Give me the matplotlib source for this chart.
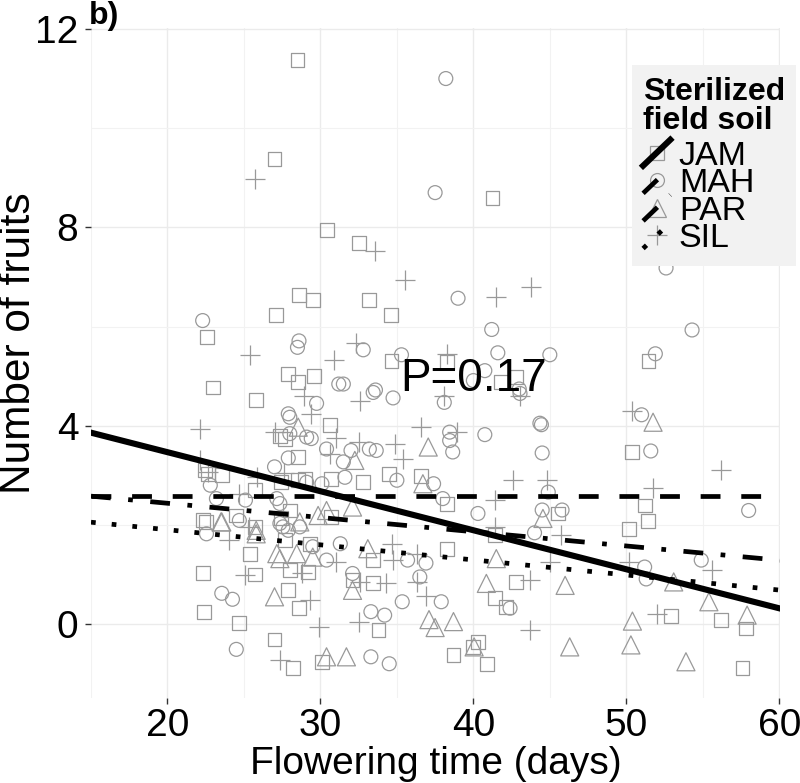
import matplotlib
matplotlib.use("Agg")
import matplotlib.pyplot as plt
from matplotlib.lines import Line2D
from matplotlib.legend_handler import HandlerBase
from matplotlib.ticker import MultipleLocator

plt.rcParams['font.family'] = ['Liberation Sans', 'DejaVu Sans']

# flowering time (days) / number of fruits
jam_x = [28.5, 27.0, 30.45, 32.5, 41.25, 28.6, 29.5, 33.2, 27.1, 22.6, 34.6, 34.65, 38.25,
         51.45, 27.9, 29.6, 28.55, 23.0, 41.8, 42.8, 25.8, 30.65, 27.35, 27.7, 28.55, 22.45,
         22.65, 23.55, 27.45, 29.0, 30.7, 32.8, 25.7, 22.3, 22.5, 25.4, 22.3, 25.7, 22.4, 24.7,
         28.0, 29.2, 27.9, 28.6, 27.0, 28.2, 30.1, 33.8, 32.1, 33.45, 33.45, 34.5, 36.6, 50.35,
         38.25, 45.55, 51.2, 51.4, 50.2, 41.4, 38.25, 42.8, 41.4, 42.15, 57.85, 56.2, 52.95,
         40.3, 40.0, 38.7, 40.9, 57.6, 28.55, 29.3, 27.7, 28.0, 27.45, 30.7, 25.7, 24.5]
jam_y = [11.38, 9.38, 7.94, 7.68, 8.6, 6.63, 6.53, 6.53, 6.23, 5.79, 6.23, 5.3, 5.28,
         5.31, 5.04, 5.01, 4.88, 4.77, 4.88, 4.98, 4.52, 4.02, 3.8, 3.74, 3.37, 3.1,
         3.03, 3.0, 2.86, 2.93, 2.93, 2.86, 2.7, 2.09, 2.06, 1.42, 1.03, 1.0, 0.24, 0.03,
         1.09, 1.05, 0.68, 0.33, -0.31, -0.89, -0.76, -0.12, 0.89, 0.82, 1.29, 3.03, 2.98, 3.47,
         2.43, 2.23, 2.39, 2.07, 1.91, 1.79, 1.52, 0.85, 0.52, 0.35, -0.09, 0.08, 0.16,
         -0.36, -0.46, -0.62, -0.8, -0.89, 2.9, 1.62, 1.69, 2.29, 2.13, 2.16, 1.96, 2.19]

mah_x = [38.2, 37.5, 52.6, 54.3, 22.3, 28.6, 28.5, 32.8, 39.0, 41.2, 41.6, 45.0, 35.3, 51.9,
         31.2, 31.5, 33.6, 40.75, 40.0, 43.0, 33.45, 29.75, 27.9, 28.0, 28.0, 29.1, 29.4, 30.4,
         33.2, 33.65, 27.9, 32.0, 31.5, 27.0, 30.1, 31.6, 22.8, 25.1, 27.15, 24.7, 27.35, 22.55,
         23.55, 24.25, 24.5, 33.3, 33.3, 30.4, 31.3, 34.75, 38.1, 43.05, 40.75, 44.35, 44.45,
         38.45, 38.45, 38.65, 44.5, 51.0, 51.6, 35.0, 37.4, 38.0, 40.3, 44.5, 45.8, 58.0, 44.0,
         35.7, 36.9, 51.2, 54.9, 51.3, 36.5, 42.4, 37.9, 35.35, 34.2, 34.5, 23.2, 27.55, 27.9,
         28.65, 29.5, 29.1, 27.35, 32.1, 44.9]
mah_y = [11.0, 8.7, 7.18, 5.93, 6.12, 5.71, 5.58, 5.53, 6.57, 5.94, 5.47, 5.43, 5.43, 5.45,
         4.84, 4.84, 4.72, 5.11, 4.91, 4.74, 4.67, 4.45, 4.24, 4.17, 3.84, 3.77, 3.74, 3.53,
         3.53, 3.5, 3.35, 3.5, 3.27, 3.17, 2.83, 2.96, 2.8, 2.5, 2.53, 2.09, 2.03, 1.82,
         0.62, 0.5, -0.51, -0.66, 0.25, 1.29, 1.62, 4.56, 4.47, 4.65, 3.82, 4.05, 4.02,
         3.87, 3.7, 3.47, 3.45, 4.22, 3.49, 2.9, 2.83, 2.53, 2.23, 2.3, 2.3, 2.29, 1.84,
         1.29, 1.23, 1.15, 1.29, 0.91, 0.95, 0.32, 0.45, 0.45, 0.18, -0.8, 2.53, 1.96, 1.89,
         1.96, 1.56, 2.86, 2.43, 1.02, 2.66]

par_x = [28.55, 32.25, 29.85, 30.4, 32.1, 23.55, 25.8, 23.5, 25.8, 27.15, 27.35, 28.45, 29.5,
         27.0, 30.4, 31.7, 32.1, 33.1, 37.05, 51.75, 36.7, 44.55, 41.5, 53.1, 46.0, 40.85,
         37.1, 37.5, 38.7, 55.4, 57.9, 50.4, 40.05, 46.3, 50.3, 53.9, 28.65]
par_y = [3.97, 3.3, 2.19, 2.29, 2.36, 2.06, 1.89, 2.06, 1.82, 1.42, 1.32, 1.42, 1.35,
         0.55, -0.66, -0.66, 0.68, 1.52, 3.57, 4.07, 2.83, 2.13, 1.32, 0.85, 0.78, 0.82,
         0.09, -0.07, 0.05, 0.45, 0.18, 0.06, -0.46, -0.46, -0.42, -0.76, 2.06]

sil_x = [25.7, 33.6, 25.4, 32.3, 30.9, 35.5, 41.5, 43.8, 38.25, 28.9, 32.6, 29.4, 22.1, 27.0,
         32.5, 30.6, 22.1, 22.65, 25.85, 24.0, 25.1, 25.3, 28.8, 29.3, 29.9, 27.35, 32.5, 32.6,
         31.05, 38.1, 43.05, 36.6, 38.9, 34.85, 35.4, 50.35, 56.2, 42.6, 44.8, 51.75, 41.4,
         41.4, 45.75, 34.65, 36.3, 34.75, 45.0, 50.2, 55.6, 43.7, 34.3, 36.3, 36.9, 52.0, 43.7,
         24.7, 27.6, 31.0]
sil_y = [8.98, 7.52, 5.43, 5.66, 5.33, 6.94, 6.59, 6.8, 5.45, 4.6, 4.5, 4.24, 3.94, 3.87,
         3.67, 3.43, 3.3, 3.07, 2.96, 1.69, 0.99, 1.96, 1.02, 0.48, -0.05, -0.72, 0.05, 0.85,
         1.25, 4.6, 4.6, 3.97, 3.87, 3.64, 3.33, 4.29, 3.11, 2.9, 2.9, 2.75, 2.5,
         1.96, 1.79, 1.62, 1.42, 1.29, 1.25, 1.25, 1.09, 0.89, 0.83, 0.84, 0.56, 0.2, -0.12,
         2.63, 3.05, 3.75]

populations = ['JAM', 'MAH', 'PAR', 'SIL']
# fitted lines: intercept and slope
fit_intercept = [5.04, 2.58, 3.01, 2.51]
fit_slope = [-0.0787, 0.0, -0.0287, -0.0304]

markers = ['s', 'o', '^', '+']
marker_size = [10, 10, 13, 14]
dash_styles = ['-', (0, (4.2, 4.4)), (0, (4.2, 3.7, 1, 3.7)), (0, (1, 3.4))]
line_widths = [4.4, 3.4, 3.4, 3.4]
grey = '#999999'


class DiagonalKey(HandlerBase):
    """ggplot style abline key: gray point with a diagonal line on top"""
    def create_artists(self, legend, orig_handle, xdescent, ydescent,
                       width, height, fontsize, trans):
        x0, y0 = -xdescent, -ydescent
        pt = Line2D([x0 + width / 2], [y0 + height / 2], ls='none',
                    marker=orig_handle.get_marker(), markersize=orig_handle.get_markersize(),
                    markerfacecolor='none', markeredgecolor=grey, markeredgewidth=0.9)
        ln = Line2D([x0, x0 + width], [y0, y0 + height])
        ln.update_from(orig_handle)
        ln.set_marker('None')
        ln.set_color('black')
        pt.set_transform(trans)
        ln.set_transform(trans)
        return [pt, ln]


fig = plt.figure(figsize=(8, 7.83), dpi=100)
ax = fig.add_axes([0.11375, 0.1086, 0.86125, 0.8557])

xs = [jam_x, mah_x, par_x, sil_x]
ys = [jam_y, mah_y, par_y, sil_y]
for i in range(4):
    if markers[i] == '+':
        ax.scatter(xs[i], ys[i], marker='+', s=marker_size[i] ** 2, c=grey, linewidths=0.9, zorder=2)
    else:
        ax.scatter(xs[i], ys[i], marker=markers[i], s=marker_size[i] ** 2, facecolors='none',
                   edgecolors=grey, linewidths=0.9, zorder=2)

handles = []
for i in range(4):
    ax.axline((0, fit_intercept[i]), slope=fit_slope[i], color='black',
              linestyle=dash_styles[i], linewidth=line_widths[i], zorder=3)
    handles.append(Line2D([], [], color='black', linestyle=dash_styles[i],
                          linewidth=line_widths[i], marker=markers[i],
                          markersize=marker_size[i]))

ax.set_xlim(15.0, 60.05)
ax.set_ylim(-1.49, 12.02)
ax.xaxis.set_major_locator(MultipleLocator(10))
ax.xaxis.set_minor_locator(MultipleLocator(5))
ax.yaxis.set_major_locator(MultipleLocator(4))
ax.yaxis.set_minor_locator(MultipleLocator(2))
ax.grid(which='major', color='#ebebeb', linewidth=1.0, zorder=0)
ax.grid(which='minor', color='#f2f2f2', linewidth=0.8, zorder=0)
ax.set_axisbelow(True)
for sp in ax.spines.values():
    sp.set_visible(False)
ax.tick_params(which='major', length=4, width=1.0, color='#333333', labelsize=28,
               labelcolor='black')
ax.tick_params(axis='y', pad=5)
ax.tick_params(axis='x', pad=3)
ax.tick_params(which='minor', length=0)

ax.set_xlabel('Flowering time (days)', fontsize=28, labelpad=2)
ax.set_ylabel('Number of fruits', fontsize=30.5)
ax.yaxis.set_label_coords(-0.075, 0.53)

ax.text(40, 4.95, 'P=0.17', fontsize=33, ha='center', va='center', zorder=4)
fig.text(0.111, 0.999, 'b)', fontsize=23, fontweight='bold', ha='left', va='top')

leg = ax.legend(handles, populations, handler_map={Line2D: DiagonalKey()},
                title='Sterilized\nfield soil', loc='upper left',
                bbox_to_anchor=(0.785, 0.944), fontsize=24.5,
                title_fontproperties={'weight': 'bold', 'size': 23},
                frameon=True, fancybox=False, framealpha=1, edgecolor='none',
                facecolor='#f2f2f2', handlelength=0.8, handleheight=0.8,
                handletextpad=0.25, labelspacing=-0.125, borderpad=0.33,
                borderaxespad=0, alignment='left')
leg.get_title().set_linespacing(0.95)
leg._legend_box.sep = 3.0
leg.set_zorder(5)

fig.savefig('out.png', dpi=100)
